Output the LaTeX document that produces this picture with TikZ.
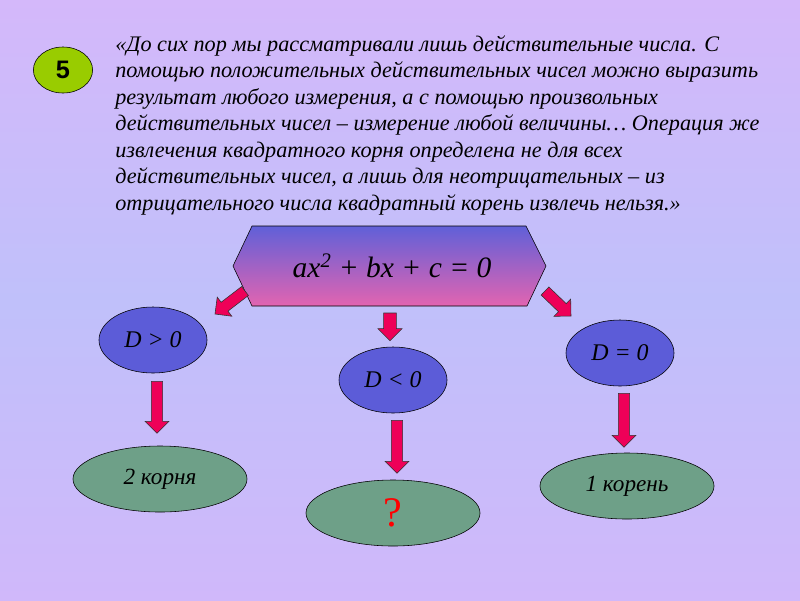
\documentclass[tikz,border=0pt]{standalone}
\usepackage{fontspec}
\setmainfont{Liberation Serif}
\newfontfamily\badgefont{Liberation Sans}
\usetikzlibrary{shapes.geometric,calc}
\definecolor{bgtop}{RGB}{212,184,250}
\definecolor{bgmid}{RGB}{192,192,250}
\definecolor{bgbot}{RGB}{208,184,250}
\definecolor{hextop}{RGB}{96,96,216}
\definecolor{hexbot}{RGB}{226,100,176}
\definecolor{casecolor}{RGB}{92,92,216}
\definecolor{rootcolor}{RGB}{110,160,136}
\definecolor{badgecolor}{RGB}{153,204,0}
\definecolor{arrowcolor}{RGB}{238,0,88}
\tikzset{
    % --- styles ---
    badge/.style={ellipse, draw, thin, fill=badgecolor, minimum width=1.48cm, minimum height=1.15cm,
                  font=\fontsize{18}{20}\selectfont\badgefont\bfseries},
    casenode/.style={ellipse, draw, thin, fill=casecolor, minimum width=2.7cm, minimum height=1.65cm,
                     font=\fontsize{17}{20}\selectfont\itshape},
    rootnode/.style={ellipse, draw, thin, fill=rootcolor, minimum width=4.35cm, minimum height=1.65cm,
                     font=\fontsize{16.5}{18}\selectfont\itshape},
    fatarrow/.style={draw=black!80, thin, fill=arrowcolor, line join=miter}
}
% block arrow: [shaft half width]{tail}{tip}
\newcommand{\blockarrow}[3][0.14cm]{%
  \coordinate (ba-h) at ($(#3)!0.3cm!(#2)$);
  \filldraw[fatarrow]
    ($(#2)!#1!90:(#3)$) -- ($(ba-h)!#1!-90:(#2)$) -- ($(ba-h)!0.3cm!-90:(#2)$) -- (#3)
    -- ($(ba-h)!0.3cm!90:(#2)$) -- ($(ba-h)!#1!90:(#2)$) -- ($(#2)!#1!-90:(#3)$) -- cycle;}

\begin{document}
\begin{tikzpicture}[x=0.025cm, y=-0.025cm]
    % background
    \shade[top color=bgtop, bottom color=bgbot, middle color=bgmid] (0,0) rectangle (800,600);

    \node[badge] (num) at (63,70) {5};

    \node[anchor=north west, align=left, inner sep=0pt,
          font=\fontsize{15.8}{18.9}\selectfont\itshape] (quote) at (115,35)
      {«До сих пор мы рассматривали лишь действительные числа. С\\
       помощью положительных действительных чисел можно выразить\\
       результат любого измерения, а с помощью произвольных\\
       действительных чисел – измерение любой величины… Операция же\\
       извлечения квадратного корня определена не для всех\\
       действительных чисел, а лишь для неотрицательных – из\\
       отрицательного числа квадратный корень извлечь нельзя.»};

    % equation box
    \coordinate (hnw) at (252,226);
    \coordinate (hne) at (526,226);
    \coordinate (he) at (546,266);
    \coordinate (hse) at (527,306);
    \coordinate (hsw) at (252,306);
    \coordinate (hw) at (233,266);
    \shade[draw, thin, top color=hextop, bottom color=hexbot]
      (hnw) -- (hne) -- (he) -- (hse) -- (hsw) -- (hw) -- cycle;
    \node[font=\fontsize{21}{24}\selectfont\itshape] (eq) at (392,266) {ax\textsuperscript{2} + bx + c = 0};

    \node[casenode] (gt) at (153,340) {D > 0};
    \node[casenode] (lt) at (393,380) {D < 0};
    \node[casenode] (eqz) at (620,353) {D = 0};

    \node[rootnode] (two) at (160,479) {2 корня};
    \node[rootnode, font=\fontsize{30}{32}\selectfont, text=red] (none) at (393,513) {?};
    \node[rootnode] (one) at (627,486) {1 корень};

    % arrows
    \coordinate (a1) at ($(hsw)+(-7,-15)$);
    \coordinate (b1) at ($(hsw)+(-37,8)$);
    \blockarrow{a1}{b1}
    \coordinate (a2) at ($(eq.south |- hsw)+(-2,7)$);
    \coordinate (b2) at ($(lt.north)+(-3,-6)$);
    \blockarrow[0.16cm]{a2}{b2}
    \coordinate (a3) at ($(hse)+(18,-15)$);
    \coordinate (b3) at ($(hse)+(44,10)$);
    \blockarrow{a3}{b3}

    \coordinate (a4) at ($(gt.south)+(4,8)$);
    \coordinate (b4) at ($(gt.south)+(4,60)$);
    \blockarrow{a4}{b4}
    \coordinate (a5) at ($(lt.south)+(4,7)$);
    \coordinate (b5) at ($(lt.south)+(4,60)$);
    \blockarrow{a5}{b5}
    \coordinate (a6) at ($(eqz.south)+(4,7)$);
    \coordinate (b6) at ($(eqz.south)+(4,61)$);
    \blockarrow{a6}{b6}
\end{tikzpicture}
\end{document}
